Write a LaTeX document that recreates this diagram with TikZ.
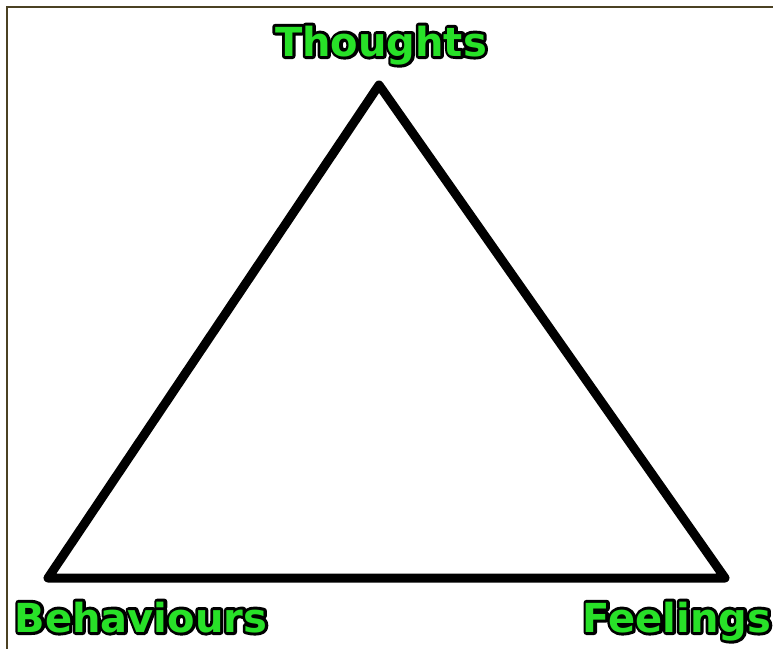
\documentclass[tikz,border=0pt]{standalone}
\usepackage{fontspec}
\setsansfont{DejaVu Sans}
\definecolor{labelgreen}{RGB}{40,225,40}
\definecolor{frameolive}{RGB}{75,65,35}
% green letters on a wide black rim (stroked copy below the filled one)
\newcommand{\rimtext}[1]{\rlap{\special{pdf:literal 0 0 0 RG 1 Tr 6 w 1 j}#1\special{pdf:literal 0 Tr}}#1}

\begin{document}
\begin{tikzpicture}[
  x=1pt,y=-1pt,
  label/.style={anchor=base,inner sep=0pt,font=\sffamily\bfseries\fontsize{40}{40}\selectfont,text=labelgreen},
  side/.style={line width=9pt,line join=round}
]
  \useasboundingbox (0,0) rectangle (773,649);
  \fill[white] (0,0) rectangle (773,649);
  \draw[frameolive,line width=2pt] (773,7) -- (7,7) -- (7,649);

  \coordinate (T) at (379,85);
  \coordinate (B) at (48,578);
  \coordinate (F) at (725,578);
  \draw[side] (T) -- (B) -- (F) -- cycle;

  \node[label] (thoughts) at (381,56) {\rimtext{Thoughts}};
  \node[label] (behaviours) at (141,632) {\rimtext{Behaviours}};
  \node[label] (feelings) at (677,632) {\rimtext{Feelings}};
\end{tikzpicture}
\end{document}
